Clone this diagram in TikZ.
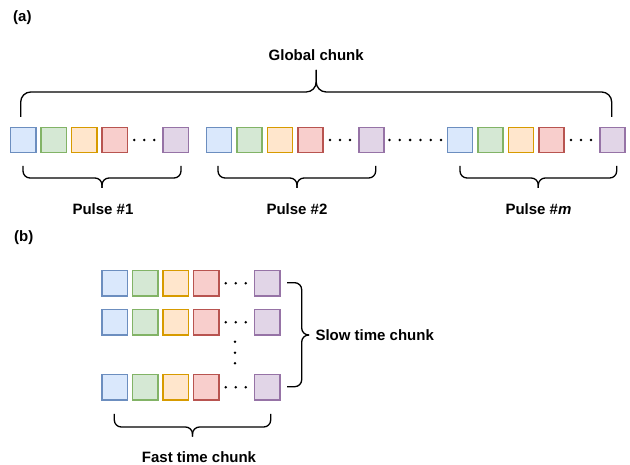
\documentclass[tikz,border=0pt]{standalone}
\usepackage{fontspec}
\setmainfont{Liberation Sans}
\usepackage{tikz}
\definecolor{blufill}{HTML}{DAE8FC}
\definecolor{bluline}{HTML}{6C8EBF}
\definecolor{grnfill}{HTML}{D5E8D4}
\definecolor{grnline}{HTML}{82B366}
\definecolor{orgfill}{HTML}{FFE6CC}
\definecolor{orgline}{HTML}{D79B00}
\definecolor{redfill}{HTML}{F8CECC}
\definecolor{redline}{HTML}{B85450}
\definecolor{purfill}{HTML}{E1D5E7}
\definecolor{purline}{HTML}{9673A6}
% one run of cells: prefix, x of first cell, y
\newcommand{\cellrow}[3]{%
  \node[cell, cblue] (#1a) at (#2, #3) {};
  \node[cell, cgreen] (#1b) at (#2+30.5, #3) {};
  \node[cell, corange] (#1c) at (#2+61, #3) {};
  \node[cell, cred] (#1d) at (#2+91.5, #3) {};
  \node[dot] (#1x) at (#2+111, #3) {};
  \node[dot] (#1y) at (#2+121, #3) {};
  \node[dot] (#1z) at (#2+131, #3) {};
  \node[cell, cpurple] (#1e) at (#2+152.5, #3) {};
}

\begin{document}
\begin{tikzpicture}[x = 1pt, y = -1pt,
    font = \fontsize{15}{18}\selectfont\bfseries,
    cell/.style = {draw, minimum size = 25.2pt, inner sep = 0pt, line width = 1.5pt},
    cblue/.style = {fill = blufill, draw = bluline},
    cgreen/.style = {fill = grnfill, draw = grnline},
    corange/.style = {fill = orgfill, draw = orgline},
    cred/.style = {fill = redfill, draw = redline},
    cpurple/.style = {fill = purfill, draw = purline},
    dot/.style = {circle, fill = black, inner sep = 0pt, minimum size = 2.8pt},
    brc/.style = {draw, line width = 1.3pt, rounded corners = 7pt}]
      \useasboundingbox (0, 0) rectangle (630, 465);
      % (a)
      \node[anchor = west, inner sep = 0pt] (la) at (13, 18) {(a)};
      \cellrow{p1}{23.3}{140}
      \cellrow{p2}{219}{140}
      \cellrow{p3}{460}{140}
      \node[dot] (g1) at (389.5, 140) {};
      \node[dot] (g2) at (399.8, 140) {};
      \node[dot] (g3) at (410.1, 140) {};
      \node[dot] (g4) at (420.4, 140) {};
      \node[dot] (g5) at (430.7, 140) {};
      \node[dot] (g6) at (441, 140) {};
      \coordinate (gl) at (20.7, 117);
      \coordinate (gr) at (611.7, 117);
      \coordinate (gm) at (316.2, 92);
      \coordinate (gt) at (316.2, 70);
      \draw[brc, rounded corners = 10pt] (gl) |- (gm) -- (gt);
      \draw[brc, rounded corners = 10pt] (gr) |- (gm) -- (gt);
      \node (glob) at (316.2, 55) {Global chunk};
      \coordinate (b1l) at (23, 166);
      \coordinate (b1r) at (181, 166);
      \coordinate (b1m) at (102, 178);
      \coordinate (b1t) at (102, 188);
      \draw[brc] (b1l) |- (b1m) -- (b1t);
      \draw[brc] (b1r) |- (b1m) -- (b1t);
      \node (pl1) at (103, 209) {Pulse \#1};
      \coordinate (b2l) at (218, 166);
      \coordinate (b2r) at (375.7, 166);
      \coordinate (b2m) at (297, 178);
      \coordinate (b2t) at (297, 188);
      \draw[brc] (b2l) |- (b2m) -- (b2t);
      \draw[brc] (b2r) |- (b2m) -- (b2t);
      \node (pl2) at (297, 209) {Pulse \#2};
      \coordinate (b3l) at (460, 166);
      \coordinate (b3r) at (616.7, 166);
      \coordinate (b3m) at (538.3, 178);
      \coordinate (b3t) at (538.3, 188);
      \draw[brc] (b3l) |- (b3m) -- (b3t);
      \draw[brc] (b3r) |- (b3m) -- (b3t);
      \node (pl3) at (538.5, 209) {Pulse \#\textit{m}};
      % (b)
      \node[anchor = west, inner sep = 0pt] (lb) at (14, 238) {(b)};
      \cellrow{r1}{114.7}{283.3}
      \cellrow{r2}{114.7}{322.3}
      \cellrow{r3}{114.7}{387.3}
      \node[dot] (v1) at (235, 341.7) {};
      \node[dot] (v2) at (235, 352.7) {};
      \node[dot] (v3) at (235, 363.3) {};
      \coordinate (st) at (287, 282.7);
      \coordinate (sb) at (287, 386.7);
      \coordinate (sm) at (301.7, 335);
      \coordinate (sp) at (309, 335);
      \draw[brc] (st) -| (sm) -- (sp);
      \draw[brc] (sb) -| (sm) -- (sp);
      \node[anchor = west] (slow) at (312, 335) {Slow time chunk};
      \coordinate (fl) at (114.3, 414);
      \coordinate (fr) at (270.7, 414);
      \coordinate (fm) at (192.5, 427);
      \coordinate (ft) at (192.5, 436.7);
      \draw[brc] (fl) |- (fm) -- (ft);
      \draw[brc] (fr) |- (fm) -- (ft);
      \node (fast) at (199, 457) {Fast time chunk};
    \end{tikzpicture}
\end{document}
